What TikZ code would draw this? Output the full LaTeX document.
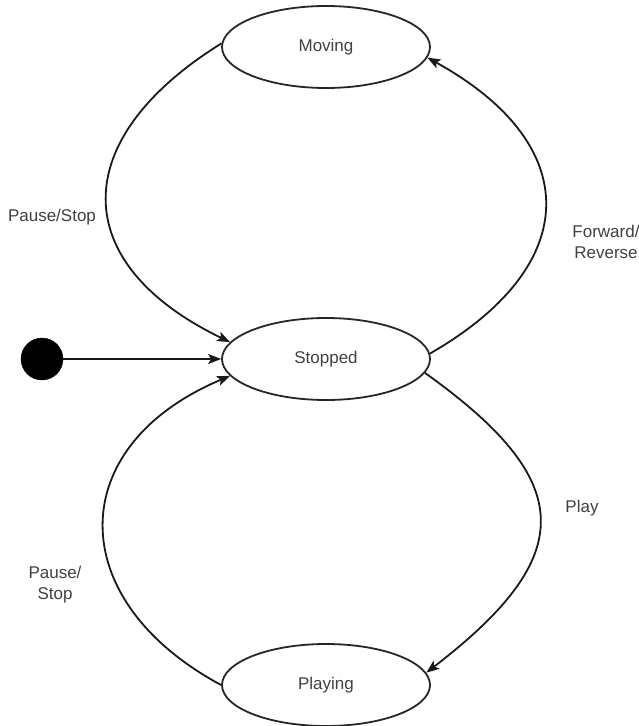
\documentclass[tikz,border=0pt]{standalone}
\usepackage{fontspec}
\setmainfont{Liberation Sans}
\usetikzlibrary{shapes.geometric,arrows.meta}
\begin{document}
\begin{tikzpicture}[x=1pt,y=-1pt,
  state/.style={draw=black!85,line width=1.8pt,ellipse,minimum width=208pt,minimum height=82pt,inner sep=0pt,text=black!75,font=\fontsize{17}{20}\selectfont},
  lbl/.style={text=black!75,font=\fontsize{17}{21}\selectfont,align=center,inner sep=0pt},
  trans/.style={draw=black!90,line width=1.8pt,-{Stealth[length=13pt,width=10pt,inset=3pt]}}]
\useasboundingbox (0,0) rectangle (638,726);
\node[state] (moving) at (326,47) {Moving};
\node[state] (stopped) at (326,359) {Stopped};
\node[state] (playing) at (326,685) {Playing};
\node[circle,fill=black,draw=black,minimum size=42pt,inner sep=0pt] (init) at (42,359) {};
\node[lbl] (l1) at (52,217) {Pause/Stop};
\node[lbl] (l2) at (606,242) {Forward/\\Reverse};
\node[lbl] (l3) at (582,508) {Play};
\node[lbl] (l4) at (55,585) {Pause/\\Stop};
\draw[trans] (init) -- (stopped.west);
\draw[trans] (moving.178) .. controls (66,140) and (68,264) .. (stopped.170);
\draw[trans] (stopped.3) .. controls (584,265) and (584,144) .. (moving.-6);
\draw[trans] (stopped.-8) .. controls (578,482) and (578,556) .. (playing.7);
\draw[trans] (playing.180) .. controls (63,600) and (63,446) .. (stopped.190);
\end{tikzpicture}
\end{document}
